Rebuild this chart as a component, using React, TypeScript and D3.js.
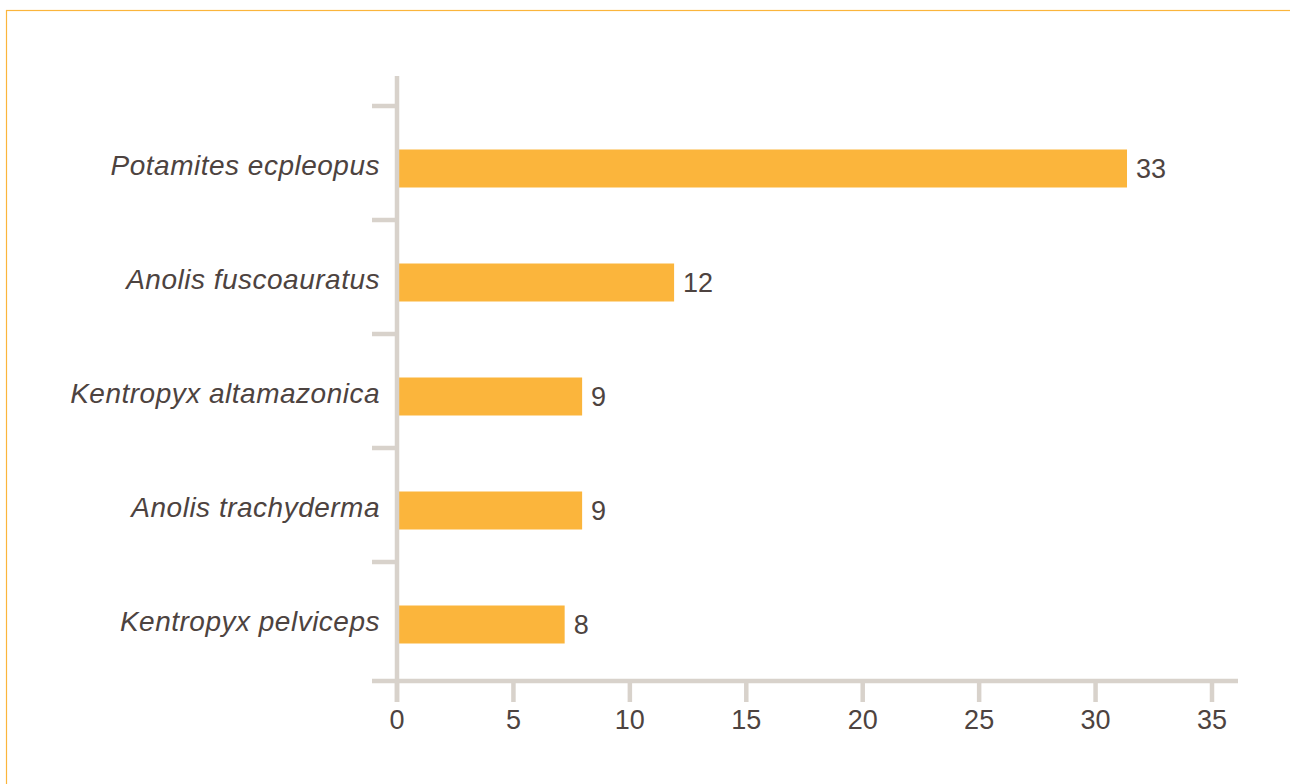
import { useEffect, useRef } from "react";
import * as d3 from "d3";

const species = [
  "Potamites ecpleopus",
  "Anolis fuscoauratus",
  "Kentropyx altamazonica",
  "Anolis trachyderma",
  "Kentropyx pelviceps",
];
// bar lengths as drawn in the chart, and the numbers printed next to them
const barValues = [31.35, 11.9, 7.95, 7.95, 7.2];
const valueLabels = ["33", "12", "9", "9", "8"];
const xTicks = [0, 5, 10, 15, 20, 25, 30, 35];

const width = 1290;
const height = 784;

export default function App() {
  const svgRef = useRef<SVGSVGElement>(null);

  useEffect(() => {
    if (!svgRef.current) return;
    const svg = d3.select(svgRef.current);
    svg.selectAll("*").remove();

    const axisColor = "#d8d2cb";
    const textColor = "#4d4340";
    const barColor = "#fbb53c";
    const font = "'Liberation Sans', Arial, sans-serif";

    const x = d3.scaleLinear().domain([0, 35]).range([397, 1212]);
    const y = d3.scaleBand().domain(species).range([106, 676]).padding(0);
    const axisY = 681;
    const barH = 38;
    const barOffset = 5.5;

    // frame
    svg
      .append("rect")
      .attr("x", 6.5)
      .attr("y", 10.5)
      .attr("width", width)
      .attr("height", height)
      .attr("fill", "none")
      .attr("stroke", barColor)
      .attr("stroke-width", 1.2);

    // bars
    svg
      .append("g")
      .selectAll("rect")
      .data(species)
      .enter()
      .append("rect")
      .attr("x", x(0))
      .attr("y", (d) => (y(d) || 0) + y.bandwidth() / 2 + barOffset - barH / 2)
      .attr("width", (_d, i) => x(barValues[i]) - x(0))
      .attr("height", barH)
      .attr("fill", barColor);

    // value labels
    svg
      .append("g")
      .selectAll("text")
      .data(species)
      .enter()
      .append("text")
      .attr("x", (_d, i) => x(barValues[i]) + 9)
      .attr("y", (d) => (y(d) || 0) + y.bandwidth() / 2 + barOffset)
      .attr("dy", "0.36em")
      .attr("fill", textColor)
      .style("font-family", font)
      .style("font-size", "27px")
      .text((_d, i) => valueLabels[i]);

    // y axis
    const yAxis = svg.append("g");
    yAxis
      .append("line")
      .attr("x1", 397)
      .attr("x2", 397)
      .attr("y1", 76)
      .attr("y2", 702)
      .attr("stroke", axisColor)
      .attr("stroke-width", 4.5);
    yAxis
      .selectAll(".ytick")
      .data(species)
      .enter()
      .append("line")
      .attr("x1", 372)
      .attr("x2", 397)
      .attr("y1", (d) => y(d) || 0)
      .attr("y2", (d) => y(d) || 0)
      .attr("stroke", axisColor)
      .attr("stroke-width", 4.5);
    yAxis
      .selectAll(".ylabel")
      .data(species)
      .enter()
      .append("text")
      .attr("x", 380)
      .attr("y", (d) => (y(d) || 0) + y.bandwidth() / 2 + barOffset - 4)
      .attr("dy", "0.36em")
      .attr("text-anchor", "end")
      .attr("fill", textColor)
      .style("font-family", font)
      .style("font-style", "italic")
      .style("font-size", "28px")
      .style("letter-spacing", "0.5px")
      .text((d) => d);

    // x axis
    const xAxis = svg.append("g");
    xAxis
      .append("line")
      .attr("x1", 372)
      .attr("x2", 1238)
      .attr("y1", axisY)
      .attr("y2", axisY)
      .attr("stroke", axisColor)
      .attr("stroke-width", 4.5);
    xAxis
      .selectAll(".xtick")
      .data(xTicks)
      .enter()
      .append("line")
      .attr("x1", (d) => x(d))
      .attr("x2", (d) => x(d))
      .attr("y1", axisY)
      .attr("y2", 702)
      .attr("stroke", axisColor)
      .attr("stroke-width", 4.5);
    xAxis
      .selectAll(".xlabel")
      .data(xTicks)
      .enter()
      .append("text")
      .attr("x", (d) => x(d))
      .attr("y", 729)
      .attr("text-anchor", "middle")
      .attr("fill", textColor)
      .style("font-family", font)
      .style("font-size", "27px")
      .text((d) => String(d));
  }, []);

  return (
    <svg
      ref={svgRef}
      width={width}
      height={height}
      viewBox={`0 0 ${width} ${height}`}
      style={{ position: "absolute", left: 0, top: 0, background: "#fff" }}
    />
  );
}
